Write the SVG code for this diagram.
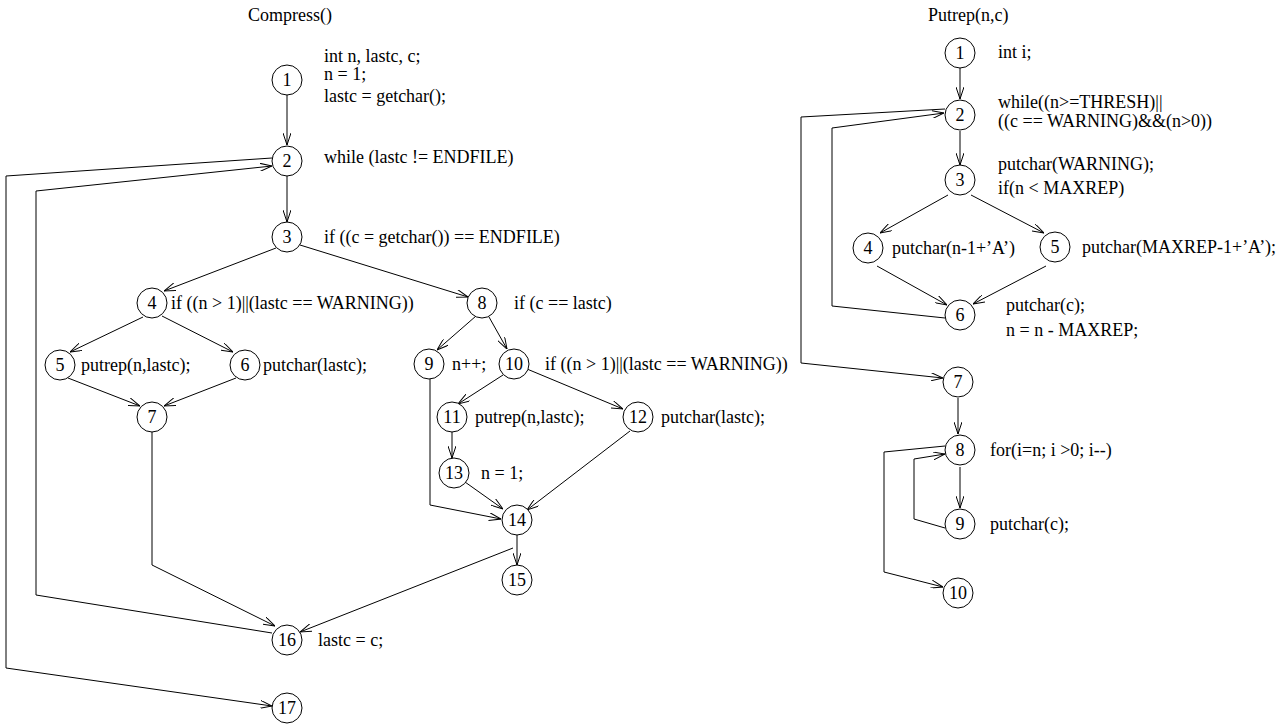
<svg xmlns="http://www.w3.org/2000/svg" width="1287" height="726" viewBox="0 0 1287 726">
<style>
text{font-family:"Liberation Serif","Times New Roman",serif;font-size:18px;fill:#000}
.n{text-anchor:middle}
circle{fill:#fff;stroke:#000;stroke-width:1}
#edges line,#edges polyline{fill:none;stroke:#000;stroke-width:1;marker-end:url(#a)}
</style>
<defs>
<marker id="a" viewBox="0 0 12 8" refX="12" refY="4" markerWidth="12" markerHeight="8" markerUnits="userSpaceOnUse" orient="auto">
<path d="M0,0 L12,4 L0,8" fill="none" stroke="#000" stroke-width="1"/>
</marker>
</defs>
<rect width="1287" height="726" fill="#fff"/>
<text x="248" y="21">Compress()</text>
<text x="928" y="21">Putrep(n,c)</text>
<g id="edges">
<line x1="287" y1="95" x2="287" y2="145"/>
<line x1="287" y1="175" x2="287" y2="222"/>
<line x1="276" y1="248" x2="164" y2="291"/>
<line x1="300" y1="245" x2="468" y2="297"/>
<line x1="143" y1="317" x2="70" y2="352"/>
<line x1="162" y1="316" x2="233" y2="352"/>
<line x1="68" y1="378" x2="140" y2="406"/>
<line x1="236" y1="378" x2="164" y2="406"/>
<polyline points="152,432 152,565 275,626"/>
<line x1="476" y1="316" x2="437" y2="350"/>
<line x1="489" y1="317" x2="507" y2="349"/>
<polyline points="430,378 430,505 501,519"/>
<line x1="503" y1="375" x2="458" y2="404"/>
<line x1="527" y1="369" x2="623" y2="409"/>
<line x1="452" y1="432" x2="452" y2="458"/>
<line x1="465" y1="482" x2="503" y2="509"/>
<line x1="630" y1="431" x2="527" y2="510"/>
<line x1="517" y1="535" x2="517" y2="565"/>
<line x1="513" y1="548" x2="300" y2="632"/>
<polyline points="272,633 36,595 36,191 272,166"/>
<polyline points="272,158 6,176 6,668 272,706"/>
<line x1="960" y1="68" x2="960" y2="99"/>
<line x1="960" y1="131" x2="960" y2="165"/>
<line x1="948" y1="195" x2="880" y2="233"/>
<line x1="971" y1="195" x2="1044" y2="233"/>
<line x1="877" y1="266" x2="947" y2="305"/>
<line x1="1046" y1="266" x2="973" y2="304"/>
<polyline points="945,318 832,306 832,128 944,113"/>
<polyline points="945,109 801,117 801,363 943,378"/>
<line x1="958" y1="398" x2="958" y2="434"/>
<line x1="960" y1="467" x2="960" y2="508"/>
<polyline points="945,528 914,519 914,459 945,454"/>
<polyline points="945,446 884,452 884,572 943,587"/>
</g>
<g id="c1"><circle cx="287" cy="80" r="15"/><text class="n" x="287" y="86">1</text>
<text x="324" y="62">int n, lastc, c;</text><text x="324" y="80">n = 1;</text><text x="324" y="102">lastc = getchar();</text></g>
<g id="c2"><circle cx="287" cy="161" r="15"/><text class="n" x="287" y="167">2</text><text x="324" y="163">while (lastc != ENDFILE)</text></g>
<g id="c3"><circle cx="287" cy="237" r="15"/><text class="n" x="287" y="243">3</text><text x="324" y="243">if ((c = getchar()) == ENDFILE)</text></g>
<g id="c4"><circle cx="152" cy="303" r="15"/><text class="n" x="152" y="309">4</text><text x="171" y="309">if ((n &gt; 1)||(lastc == WARNING))</text></g>
<g id="c5"><circle cx="60" cy="365" r="15"/><text class="n" x="60" y="371">5</text><text x="81" y="371">putrep(n,lastc);</text></g>
<g id="c6"><circle cx="245" cy="365" r="15"/><text class="n" x="245" y="371">6</text><text x="263" y="371">putchar(lastc);</text></g>
<g id="c7"><circle cx="152" cy="417" r="15"/><text class="n" x="152" y="423">7</text></g>
<g id="c8"><circle cx="482" cy="303" r="15"/><text class="n" x="482" y="309">8</text><text x="514" y="309">if (c == lastc)</text></g>
<g id="c9"><circle cx="429" cy="364" r="15"/><text class="n" x="429" y="370">9</text><text x="452" y="370">n++;</text></g>
<g id="c10"><circle cx="514" cy="364" r="15"/><text class="n" x="514" y="370">10</text><text x="545" y="370">if ((n &gt; 1)||(lastc == WARNING))</text></g>
<g id="c11"><circle cx="452" cy="417" r="15"/><text class="n" x="452" y="423">11</text><text x="475" y="423">putrep(n,lastc);</text></g>
<g id="c12"><circle cx="638" cy="417" r="15"/><text class="n" x="638" y="423">12</text><text x="661" y="423">putchar(lastc);</text></g>
<g id="c13"><circle cx="454" cy="473" r="15"/><text class="n" x="454" y="479">13</text><text x="481" y="479">n = 1;</text></g>
<g id="c14"><circle cx="517" cy="520" r="15"/><text class="n" x="517" y="526">14</text></g>
<g id="c15"><circle cx="517" cy="580" r="15"/><text class="n" x="517" y="586">15</text></g>
<g id="c16"><circle cx="287" cy="640" r="15"/><text class="n" x="287" y="646">16</text><text x="318" y="646">lastc = c;</text></g>
<g id="c17"><circle cx="287" cy="708" r="15"/><text class="n" x="287" y="714">17</text></g>
<g id="p1"><circle cx="960" cy="53" r="15"/><text class="n" x="960" y="59">1</text><text x="998" y="58">int i;</text></g>
<g id="p2"><circle cx="960" cy="115" r="15"/><text class="n" x="960" y="121">2</text><text x="998" y="108">while((n&gt;=THRESH)||</text><text x="998" y="127">((c == WARNING)&amp;&amp;(n&gt;0))</text></g>
<g id="p3"><circle cx="960" cy="180" r="15"/><text class="n" x="960" y="186">3</text><text x="998" y="170">putchar(WARNING);</text><text x="998" y="194">if(n &lt; MAXREP)</text></g>
<g id="p4"><circle cx="868" cy="248" r="15"/><text class="n" x="868" y="254">4</text><text x="892" y="254">putchar(n-1+’A’)</text></g>
<g id="p5"><circle cx="1055" cy="247" r="15"/><text class="n" x="1055" y="253">5</text><text x="1082" y="253">putchar(MAXREP-1+’A’);</text></g>
<g id="p6"><circle cx="960" cy="315" r="15"/><text class="n" x="960" y="321">6</text><text x="1006" y="311">putchar(c);</text><text x="1006" y="336">n = n - MAXREP;</text></g>
<g id="p7"><circle cx="958" cy="382" r="15"/><text class="n" x="958" y="388">7</text></g>
<g id="p8"><circle cx="960" cy="450" r="15"/><text class="n" x="960" y="456">8</text><text x="990" y="456">for(i=n; i &gt;0; i--)</text></g>
<g id="p9"><circle cx="960" cy="524" r="15"/><text class="n" x="960" y="530">9</text><text x="990" y="530">putchar(c);</text></g>
<g id="p10"><circle cx="958" cy="593" r="15"/><text class="n" x="958" y="599">10</text></g>
</svg>
